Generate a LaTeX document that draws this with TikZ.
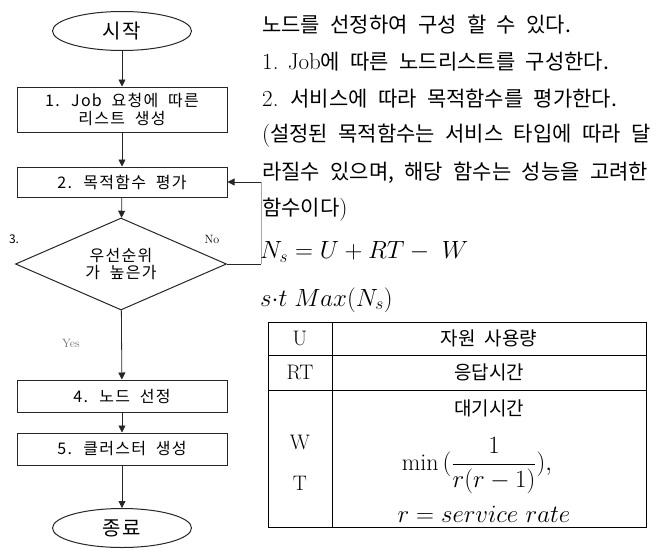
\documentclass[tikz,border=0pt]{standalone}
\usepackage{fontspec}
\usepackage{amsmath}
\usetikzlibrary{arrows.meta,shapes.geometric}
\newfontfamily\kr[WordSpace=2.2]{Noto Sans CJK KR}
\newfontfamily\krs[LetterSpace=8,WordSpace=2]{Noto Sans CJK KR}
\newcommand{\lat}[1]{{\rmfamily\fontsize{23}{24}\selectfont #1}}
\tikzset{
  flow/.style={draw=black!85, line width=1pt, fill=white, inner sep=0pt, align=center,
               font=\krs\fontsize{16}{17.5}\selectfont},
  procbox/.style={flow, rectangle, minimum width=210pt},
  term/.style={flow, ellipse, minimum width=139pt, minimum height=39pt,
               font=\krs\fontsize{20}{22}\selectfont},
  decision/.style={flow, diamond, aspect=2.3, minimum width=211pt, minimum height=92pt},
  arr/.style={draw=black!85, line width=0.8pt, -{Triangle[length=7pt,width=7pt]}},
  conn/.style={draw=black!85, line width=0.8pt},
  lbl/.style={inner sep=0pt, font=\rmfamily\fontsize{12}{13}\selectfont},
  txt/.style={anchor=west, inner sep=0pt, font=\kr\fontsize{21}{23}\selectfont},
  cell/.style={inner sep=0pt, font=\fontsize{21}{23}\selectfont},
  kcell/.style={inner sep=0pt, font=\kr\fontsize{19}{21}\selectfont},
}
\begin{document}
\begin{tikzpicture}[x=1pt,y=-1pt]
\useasboundingbox (0,0) rectangle (658,551);
% flowchart
\node[term] (start) at (122,31) {시작};
\node[procbox, minimum height=45pt] (b1) at (122,109.5) {1. Job 요청에 따른\\리스트 생성};
\node[procbox, minimum height=30pt] (b2) at (122,182) {2. 목적함수 평가};
\node[decision] (dia) at (121,264) {우선순위\\가 높은가};
\node[procbox, minimum height=32pt] (b4) at (122,396) {4. 노드 선정};
\node[procbox, minimum height=32pt] (b5) at (122,449) {5. 클러스터 생성};
\node[term] (end) at (122,528) {종료};

\draw[arr] (start) -- (b1);
\draw[arr] (b1) -- (b2);
\draw[arr] (b2) -- (dia);
\draw[arr] (dia) -- (b4);
\draw[arr] (b4) -- (b5);
\draw[arr] (b5) -- (end);

\coordinate (nc) at ([xshift=34pt]dia.east);
\coordinate (nt) at (nc |- b2.east);
\draw[conn] (dia.east) -- (nc);
\draw[conn, draw=black!35] (nc) -- (nt);
\draw[arr] (nt) -- (b2.east);

\node[inner sep=0pt, font=\kr\fontsize{12}{13}\selectfont] (l3) at (14,239) {3.};
\node[lbl] (lno) at (212,239) {No};
\node[lbl, text=black!55] (lyes) at (71,343) {Yes};

% right column text
\node[txt] (t1) at (262,25) {노드를 선정하여 구성 할 수 있다.};
\node[txt] (t2) at (262,62) {\lat{1. Job}에 따른 노드리스트를 구성한다.};
\node[txt] (t3) at (262,99) {\lat{2.} 서비스에 따라 목적함수를 평가한다.};
\node[txt] (t4) at (262,136) {\lat{(}설정된 목적함수는 서비스 타입에 따라 달};
\node[txt] (t5) at (262,173) {라질수 있으며, 해당 함수는 성능을 고려한};
\node[txt] (t6) at (262,210) {함수이다\lat{)}};

\node[anchor=west, inner sep=0pt, font=\fontsize{26}{30}\selectfont] (eq1) at (260,252) {$N_s = U + RT - \;W$};
\node[anchor=west, inner sep=0pt, font=\fontsize{26}{28}\selectfont] (eq2) at (260,300) {$s{\cdot}t\;Max(N_s)$};

% table
\draw[line width=1pt] (268,322) rectangle (646,527);
\draw[line width=1pt] (268,355) -- (646,355);
\draw[line width=1pt] (268,390) -- (646,390);
\draw[line width=1pt] (332,322) -- (332,527);

\node[cell] (cu) at (300,338.5) {U};
\node[kcell] (cuv) at (489,338.5) {자원 사용량};
\node[cell] (crt) at (300,372.5) {RT};
\node[kcell] (crtv) at (489,372.5) {응답시간};
\node[cell] (cw) at (300,442) {W};
\node[cell] (ct) at (300,483) {T};
\node[kcell] (cwv) at (489,408) {대기시간};
\node[inner sep=0pt, font=\fontsize{24}{26}\selectfont] (cmin) at (477,466) {$\min\,(\dfrac{1}{r(r-1)}),$};
\node[inner sep=0pt, font=\fontsize{25}{27}\selectfont] (crate) at (484,514) {$r = service\ rate$};
\end{tikzpicture}
\end{document}
